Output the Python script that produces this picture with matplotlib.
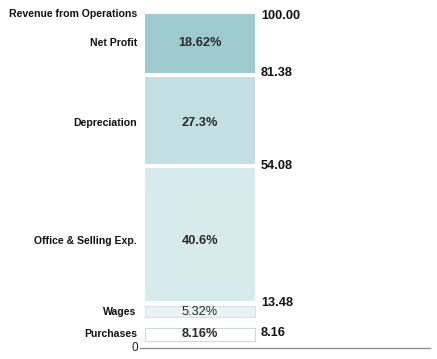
import matplotlib
matplotlib.use("Agg")
import matplotlib.pyplot as plt

plt.rcParams['font.family'] = ['Liberation Sans', 'DejaVu Sans']

# data
items = ['Purchases', 'Wages', 'Office & Selling Exp.', 'Depreciation', 'Net Profit']
shares = [8.16, 5.32, 40.6, 27.3, 18.62]
share_labels = ['8.16%', '5.32%', '40.6%', '27.3%', '18.62%']
cum_labels = ['8.16', '13.48', '54.08', '81.38', '100.00']
total_label = 'Revenue from Operations'

# styles
colors = ['#ffffff', '#eaf3f4', '#d8ebec', '#c3dfe1', '#9fcacd']
edges = ['#cfd8d9', '#d5e1e2', 'none', 'none', 'none']
pads = [2.2, 1.0, 0.6, 0.6, 0.6]
label_dy = [0, 0, -5, -1.5, 0]
cum_dy = [-9, 0, 0, 1, -3]
pct_weight = ['bold', 'normal', 'bold', 'bold', 'bold']

fig = plt.figure(figsize=(4.37, 3.59), dpi=100)
ax = fig.add_axes([0.32, 0.0306, 0.664, 0.936])
ax.set_xlim(0, 290)
ax.set_ylim(0, 100)
ax.axis('off')

bar_x, bar_w = 60, 110
bottom = 0
for i, (name, v) in enumerate(zip(items, shares)):
    p = pads[i]
    ax.bar(bar_x, v - 2 * p, bottom=bottom + p, width=bar_w, color=colors[i],
           edgecolor=edges[i], linewidth=0.8)
    mid = bottom + v / 2
    ax.annotate(share_labels[i], (bar_x, mid), xytext=(0, label_dy[i]),
                textcoords='offset points', ha='center', va='center',
                fontsize=9.2, fontweight=pct_weight[i], color='#2a2a2a')
    ax.annotate(name, (-3, mid), xytext=(0, label_dy[i]),
                textcoords='offset points', ha='right', va='center',
                fontsize=7.6, fontweight='bold', color='#111111',
                annotation_clip=False)
    top = bottom + v
    ax.annotate(cum_labels[i], (bar_x + bar_w / 2 + 6, top), xytext=(0, cum_dy[i]),
                textcoords='offset points', ha='left', va='center',
                fontsize=9.2, fontweight='bold', color='#111111')
    bottom = top

ax.annotate(total_label, (-3, 100), xytext=(0, -1.5), textcoords='offset points',
            ha='right', va='center', fontsize=7.6, fontweight='bold', color='#111111',
            annotation_clip=False)
ax.plot([0, 290], [0, 0], color='#888888', linewidth=0.9, clip_on=False)
ax.text(-2, 0, '0', ha='right', va='center', fontsize=8.5, color='#222222')

fig.savefig('out.png', dpi=100)
